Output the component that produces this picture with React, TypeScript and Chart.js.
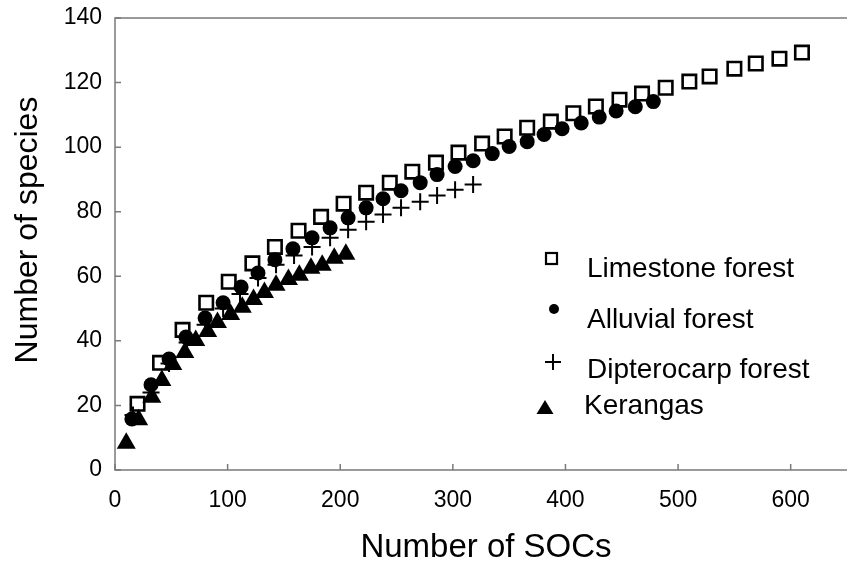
import { useEffect, useRef } from 'react';
import { Chart, registerables } from 'chart.js';

Chart.register(...registerables);

const limestoneX = [20, 40, 60, 81, 101, 122, 142, 163, 183, 203, 223, 244, 264, 285, 305, 326, 346, 366, 387, 407, 427, 448, 468, 489, 510, 528, 550, 569, 590, 610];
const limestoneY = [20.5, 33.2, 43.4, 51.8, 58.3, 64, 69.1, 74.1, 78.4, 82.5, 85.9, 89, 92.4, 95.2, 98.3, 101.1, 103.3, 106, 107.9, 110.5, 112.6, 114.7, 116.6, 118.4, 120.3, 121.9, 124.3, 125.9, 127.4, 129.3];

const alluvialX = [15, 32, 48, 63, 80, 96, 112, 127, 142, 158, 175, 191, 207, 223, 238, 254, 271, 286, 302, 318, 335, 350, 366, 381, 397, 414, 430, 445, 462, 478];
const alluvialY = [15.8, 26.4, 34.4, 41.2, 47.1, 51.8, 56.7, 61, 65.1, 68.5, 71.9, 75, 78.1, 81.2, 84, 86.5, 89, 91.5, 94, 95.8, 98, 100.2, 101.7, 103.9, 105.7, 107.5, 109.3, 111.2, 112.5, 114.1];

const dipterocarpX = [16, 32, 48, 64, 80, 96, 111, 127, 143, 159, 175, 191, 207, 223, 238, 254, 271, 286, 302, 318];
const dipterocarpY = [17, 24, 33, 39.5, 45, 50, 54.5, 59.5, 63.6, 66.4, 69.1, 71.9, 74.4, 76.9, 79.1, 81.2, 83.1, 85, 86.8, 88.4];

const kerangasX = [10, 21, 32.7, 41.6, 51.3, 62, 71.7, 82.3, 91, 102.7, 113, 123, 132.7, 143, 154, 163.7, 174, 184, 194.7, 205];
const kerangasY = [8.3, 15.6, 22.5, 27.7, 32.7, 36.4, 40.1, 42.9, 45.7, 48.2, 50.4, 52.8, 55, 57.2, 59, 60.3, 62.5, 63.4, 65.6, 66.8];

const xTickValues = [0, 100, 200, 300, 400, 500, 600];
const yTickValues = [0, 20, 40, 60, 80, 100, 120, 140];

const seriesNames = ['Limestone forest', 'Alluvial forest', 'Dipterocarp forest', 'Kerangas'];
const xTitle = 'Number of SOCs';
const yTitle = 'Number of species';

const FONT = '"Liberation Sans", Arial, sans-serif';

const pts = (xs: number[], ys: number[]) => xs.map((x, i) => ({ x, y: ys[i] }));

const framePlugin = {
  id: 'frame',
  beforeDatasetsDraw(chart: any) {
    const { ctx, chartArea } = chart;
    const { left, top, right, bottom } = chartArea;
    const xs = chart.scales.x;
    const ys = chart.scales.y;
    ctx.save();
    ctx.strokeStyle = '#7a7a7a';
    ctx.lineWidth = 1.5;
    ctx.beginPath();
    ctx.moveTo(right, top);
    ctx.lineTo(left, top);
    ctx.lineTo(left, bottom);
    ctx.lineTo(right, bottom);
    ctx.stroke();
    ctx.beginPath();
    xs.ticks.forEach((t: any) => {
      const px = xs.getPixelForValue(t.value);
      ctx.moveTo(px, bottom);
      ctx.lineTo(px, bottom - 6);
    });
    ys.ticks.forEach((t: any) => {
      const py = ys.getPixelForValue(t.value);
      ctx.moveTo(left, py);
      ctx.lineTo(left + 6, py);
    });
    ctx.stroke();
    ctx.restore();
  },
  afterDraw(chart: any) {
    const { ctx } = chart;
    ctx.save();
    ctx.fillStyle = '#000';
    ctx.font = `33px ${FONT}`;
    ctx.textAlign = 'center';
    ctx.textBaseline = 'alphabetic';
    ctx.fillText(xTitle, 486, 557);
    ctx.save();
    ctx.translate(37, 230);
    ctx.rotate(-Math.PI / 2);
    ctx.font = `32px ${FONT}`;
    ctx.fillText(yTitle, 0, 0);
    ctx.restore();

    ctx.strokeStyle = '#000';
    ctx.fillStyle = '#000';
    ctx.lineWidth = 2.2;
    ctx.strokeRect(546, 253, 11, 11);
    ctx.beginPath();
    ctx.arc(554, 309, 5, 0, Math.PI * 2);
    ctx.fill();
    ctx.lineWidth = 2;
    ctx.beginPath();
    ctx.moveTo(545, 362);
    ctx.lineTo(561, 362);
    ctx.moveTo(553, 354);
    ctx.lineTo(553, 370);
    ctx.stroke();
    ctx.beginPath();
    ctx.moveTo(545, 400);
    ctx.lineTo(553.5, 414);
    ctx.lineTo(536.5, 414);
    ctx.closePath();
    ctx.fill();

    ctx.font = `28px ${FONT}`;
    ctx.textAlign = 'left';
    ctx.fillText(seriesNames[0], 587, 277);
    ctx.fillText(seriesNames[1], 587, 328);
    ctx.fillText(seriesNames[2], 587, 378);
    ctx.fillText(seriesNames[3], 584, 414);
    ctx.restore();
  },
};

export default function App() {
  const ref = useRef<HTMLCanvasElement | null>(null);
  useEffect(() => {
    if (!ref.current) return;
    const chart = new Chart(ref.current, {
      type: 'scatter',
      data: {
        datasets: [
          {
            label: seriesNames[0],
            data: pts(limestoneX, limestoneY),
            pointStyle: 'rect',
            pointRadius: 9.5,
            borderWidth: 2.6,
            borderColor: '#000',
            backgroundColor: 'rgba(255,255,255,0)',
            order: 4,
          },
          {
            label: seriesNames[2],
            data: pts(dipterocarpX, dipterocarpY),
            pointStyle: 'cross',
            pointRadius: 8.5,
            borderWidth: 2,
            borderColor: '#000',
            backgroundColor: '#000',
            order: 3,
          },
          {
            label: seriesNames[1],
            data: pts(alluvialX, alluvialY),
            pointStyle: 'circle',
            pointRadius: 7.5,
            borderWidth: 0,
            borderColor: '#000',
            backgroundColor: '#000',
            order: 2,
          },
          {
            label: seriesNames[3],
            data: pts(kerangasX, kerangasY),
            pointStyle: 'triangle',
            pointRadius: 11,
            borderWidth: 0,
            borderColor: '#000',
            backgroundColor: '#000',
            order: 1,
          },
        ],
      },
      options: {
        animation: false,
        responsive: false,
        layout: { autoPadding: false, padding: { left: 0, top: 18, right: 0, bottom: 0 } },
        plugins: { legend: { display: false }, tooltip: { enabled: false } },
        scales: {
          x: {
            type: 'linear',
            min: 0,
            max: 650,
            grid: { display: false, drawTicks: false },
            border: { display: false },
            afterBuildTicks: (s: any) => {
              s.ticks = xTickValues.map((v) => ({ value: v }));
            },
            afterFit: (s: any) => {
              s.height = 95;
              s.paddingLeft = 0;
              s.paddingRight = 0;
            },
            ticks: {
              padding: 17,
              color: '#000',
              font: { family: FONT, size: 23 },
              maxRotation: 0,
              autoSkip: false,
            },
          },
          y: {
            type: 'linear',
            min: 0,
            max: 140,
            grid: { display: false, drawTicks: false },
            border: { display: false },
            afterBuildTicks: (s: any) => {
              s.ticks = yTickValues.map((v) => ({ value: v }));
            },
            afterFit: (s: any) => {
              s.width = 115;
              s.paddingTop = 0;
              s.paddingBottom = 0;
            },
            ticks: {
              padding: 13,
              color: '#000',
              font: { family: FONT, size: 23 },
              autoSkip: false,
            },
          },
        },
      },
      plugins: [framePlugin],
    });
    return () => chart.destroy();
  }, []);
  return (
    <div style={{ position: 'fixed', left: 0, top: 0, width: 847, height: 565, background: '#fff' }}>
      <canvas ref={ref} width={847} height={565} style={{ width: 847, height: 565, display: 'block' }} />
    </div>
  );
}
